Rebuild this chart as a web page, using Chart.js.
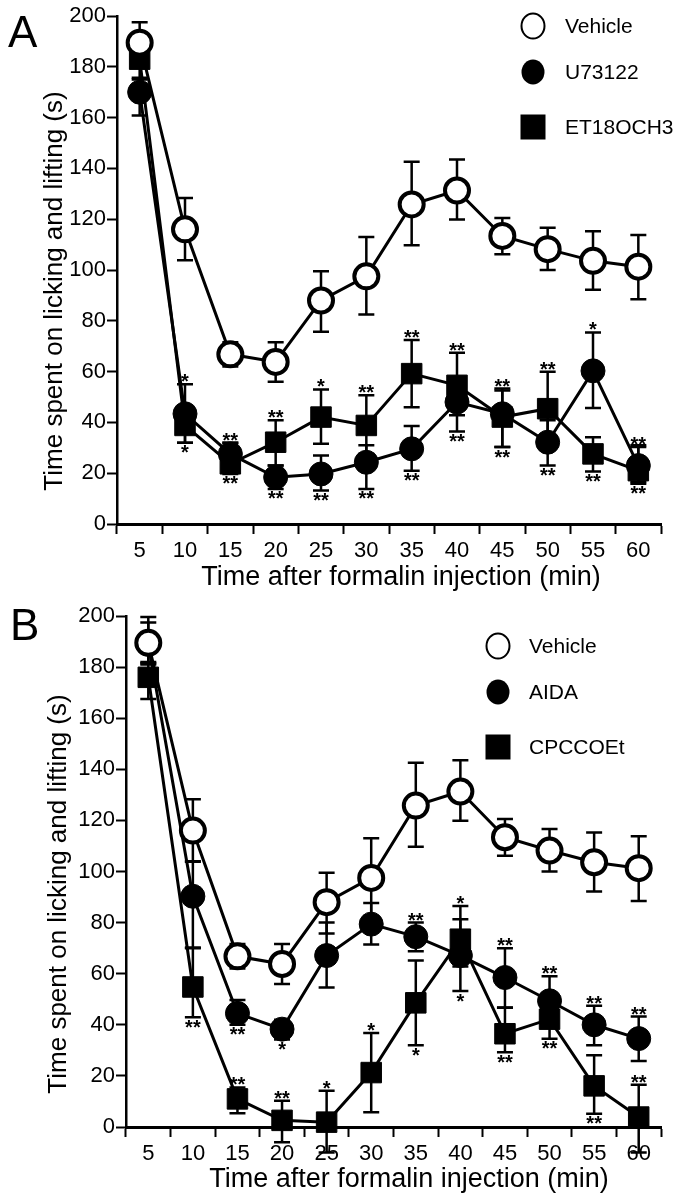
<!DOCTYPE html>
<html>
<head>
<meta charset="utf-8">
<script src="https://cdn.jsdelivr.net/npm/chart.js@4.4.0/dist/chart.umd.min.js"></script>
<style>
html, body { margin: 0; padding: 0; background: #fff; }
#wrap { position: relative; width: 678px; height: 1199px; }
canvas { position: absolute; left: 0; }
#chartA { top: 0; }
#chartB { top: 600px; }
</style>
</head>
<body>
<div id="wrap">
    <canvas id="chartA" width="678" height="600"></canvas>
    <canvas id="chartB" width="678" height="599"></canvas>
</div>
<script>
/*---------------------------------------- data ----------------------------------------*/
var minutes = ['5', '10', '15', '20', '25', '30', '35', '40', '45', '50', '55', '60'];
var yLabelValues = [0, 20, 40, 60, 80, 100, 120, 140, 160, 180, 200];

// vehicle (same group in both panels)
var vehicleMean = [189.5, 116, 66.8, 63.8, 88, 97.5, 125.8, 131.3, 113.4, 108.2, 103.6, 101.3];
var vehicleHi = [197.5, 128.3, 71.6, 71.6, 99.5, 113, 142.6, 143.5, 120.5, 116.6, 115.3, 113.8];
var vehicleLo = [182, 103.8, 62, 56, 75.7, 82.5, 109.7, 119.9, 106.2, 100, 92.2, 88.5];

// panel A
var u73122Mean = [170, 43.4, 27.6, 18.4, 19.7, 24.3, 29.6, 48, 43.4, 32.2, 60.3, 23];
var u73122Hi = [175.7, 55, 32, 23, 27, 31, 38.6, 56.6, 52.6, 40.8, 75.4, 31];
var u73122Lo = [160.8, 32, 23, 13.8, 13.2, 13.8, 21, 36.4, 30.3, 23, 45.7, 16.5];
var u73122StarsUp = ['', '*', '', '', '', '', '', '', '', '', '*', ''];
var u73122StarsDown = ['', '', '', '**', '**', '**', '**', '**', '**', '**', '', ''];

var et18Mean = [183, 38.8, 23.7, 32.2, 42.1, 38.8, 59.2, 54.6, 42.1, 45.4, 27.6, 21];
var et18Hi = [189, 44.7, 32, 40.8, 53, 50.7, 72.4, 67.4, 53.3, 59.9, 34.2, 30.3];
var et18Lo = [175, 32, 19.7, 23, 31.6, 27.6, 46, 42.8, 30.3, 32.2, 20.7, 15.8];
var et18StarsUp = ['', '', '**', '**', '*', '**', '**', '**', '**', '**', '', '**'];
var et18StarsDown = ['', '*', '**', '', '', '', '', '', '', '', '**', '**'];

// panel B
var aidaMean = [189, 90.3, 44.5, 38.3, 67.1, 79.4, 74.5, 67.1, 58.5, 49.4, 40, 34.6];
var aidaHi = [199.6, 104, 49.7, 42, 80, 87.7, 80, 81.3, 70, 59, 47.5, 43.2];
var aidaLo = [181, 70.3, 40, 34.2, 54.6, 71.4, 68.8, 53.2, 46.7, 39.4, 32, 25.8];
var aidaStarsUp = ['', '', '', '', '', '', '**', '', '**', '**', '**', '**'];
var aidaStarsDown = ['', '', '**', '*', '', '', '', '*', '', '', '', ''];

var cpccoetMean = [176, 54.8, 11, 2.6, 1.9, 21.3, 48.6, 73.5, 36.5, 42.2, 16.1, 3.9];
var cpccoetHi = [181.5, 70, 15.5, 10.3, 14.2, 36.8, 65.2, 86.5, 46.8, 49.7, 28.1, 16.5];
var cpccoetLo = [167.5, 43, 5.4, -6, -10, 5.8, 32, 62.8, 29.3, 34.5, 5.2, -10];
var cpccoetStarsUp = ['', '', '**', '**', '*', '*', '', '*', '', '', '', '**'];
var cpccoetStarsDown = ['', '**', '', '', '', '', '*', '', '**', '**', '**', ''];

var noStars = ['', '', '', '', '', '', '', '', '', '', '', ''];

/*---------------------------------------- helpers ----------------------------------------*/
var FONT = '"Liberation Sans", Arial, Helvetica, sans-serif';

// marker look for the three kinds of group
function makeSet(label, mean, hi, lo, kind, starsUp, starsDown) {
    var isRect = kind === 'square';
    return {
        label: label,
        data: mean,
        errHi: hi,
        errLo: lo,
        starsUp: starsUp,
        starsDown: starsDown,
        kind: kind,
        borderColor: '#000',
        borderWidth: 3,
        tension: 0,
        fill: false,
        clip: false,
        pointStyle: isRect ? 'rect' : 'circle',
        pointRadius: isRect ? 14.5 : 12,
        pointBackgroundColor: kind === 'open' ? '#fff' : '#000',
        pointBorderColor: '#000',
        pointBorderWidth: kind === 'open' ? 4 : 1
    };
}

// error bars, drawn under the markers
var errorBarPlugin = {
    id: 'errorBars',
    beforeDatasetsDraw: function (chart) {
        var ctx = chart.ctx;
        var xs = chart.scales.x, ys = chart.scales.y;
        ctx.save();
        ctx.strokeStyle = '#000';
        ctx.lineWidth = 2.5;
        chart.data.datasets.forEach(function (ds) {
            for (var i = 0; i < ds.data.length; i++) {
                var x = xs.getPixelForValue(i);
                var yh = ys.getPixelForValue(ds.errHi[i]);
                var yl = ys.getPixelForValue(ds.errLo[i]);
                ctx.beginPath();
                ctx.moveTo(x, yh); ctx.lineTo(x, yl);
                ctx.moveTo(x - 8, yh); ctx.lineTo(x + 8, yh);
                ctx.moveTo(x - 8, yl); ctx.lineTo(x + 8, yl);
                ctx.stroke();
            }
        });
        ctx.restore();
    },
    afterDatasetsDraw: function (chart) {
        // significance asterisks above / below the error bars
        var ctx = chart.ctx;
        var xs = chart.scales.x, ys = chart.scales.y;
        ctx.save();
        ctx.fillStyle = '#000';
        ctx.font = 'bold 20px ' + FONT;
        ctx.textAlign = 'center';
        chart.data.datasets.forEach(function (ds) {
            for (var i = 0; i < ds.data.length; i++) {
                var x = xs.getPixelForValue(i);
                if (ds.starsUp[i]) {
                    ctx.textBaseline = 'alphabetic';
                    ctx.fillText(ds.starsUp[i], x, ys.getPixelForValue(ds.errHi[i]) + 4);
                }
                if (ds.starsDown[i]) {
                    ctx.textBaseline = 'top';
                    ctx.fillText(ds.starsDown[i], x, ys.getPixelForValue(ds.errLo[i]) + 1);
                }
            }
        });
        ctx.restore();
    }
};

// panel letter, axis titles and the legend block
var decorPlugin = {
    id: 'decor',
    afterDraw: function (chart, args, o) {
        var ctx = chart.ctx;
        ctx.save();
        ctx.fillStyle = '#000';
        ctx.strokeStyle = '#000';

        ctx.font = '44px ' + FONT;
        ctx.textAlign = 'left';
        ctx.textBaseline = 'alphabetic';
        ctx.fillText(o.letter, o.letterX, o.letterY);

        ctx.font = '27px ' + FONT;
        ctx.textAlign = 'center';
        ctx.textBaseline = 'middle';
        ctx.fillText('Time after formalin injection (min)', o.xTitleX, o.xTitleY);

        ctx.save();
        ctx.translate(o.yTitleX, o.yTitleY);
        ctx.rotate(-Math.PI / 2);
        ctx.font = '26px ' + FONT;
        ctx.fillText('Time spent on licking and lifting (s)', 0, 0);
        ctx.restore();

        ctx.font = '21px ' + FONT;
        ctx.textAlign = 'left';
        chart.data.datasets.forEach(function (ds, k) {
            var y = o.legendY[k];
            ctx.lineWidth = 2;
            if (ds.kind === 'square') {
                ctx.fillRect(o.legendX - 12.5, y - 12.5, 25, 25);
            } else {
                ctx.beginPath();
                ctx.ellipse(o.legendX, y, 11.5, 12.5, 0, 0, Math.PI * 2);
                if (ds.kind === 'open') ctx.stroke(); else ctx.fill();
            }
            ctx.fillText(ds.label, o.legendTextX, y + 1);
        });
        ctx.restore();
    }
};

function makeChart(id, sets, pad, yAxisWidth, xAxisHeight, decor) {
    return new Chart(document.getElementById(id), {
        type: 'line',
        data: { labels: minutes, datasets: sets },
        plugins: [errorBarPlugin, decorPlugin],
        options: {
            responsive: false,
            animation: false,
            events: [],
            layout: { padding: pad },
            plugins: { legend: { display: false }, tooltip: { enabled: false }, decor: decor },
            scales: {
                x: {
                    type: 'category',
                    offset: true,
                    afterFit: function (s) { s.height = xAxisHeight; },
                    grid: { offset: true, drawOnChartArea: false, drawTicks: true, tickLength: 10, tickWidth: 2, tickColor: '#000' },
                    border: { display: true, color: '#000', width: 3 },
                    ticks: { color: '#000', font: { family: FONT, size: 22 }, padding: 4, maxRotation: 0, autoSkip: false }
                },
                y: {
                    min: 0,
                    max: 200,
                    afterFit: function (s) { s.width = yAxisWidth; },
                    afterBuildTicks: function (s) {
                        var t = [];
                        for (var v = 0; v <= 200; v += 10) t.push({ value: v });
                        s.ticks = t;
                    },
                    grid: {
                        drawOnChartArea: false, drawTicks: true, tickLength: 10, tickWidth: 2, tickColor: '#000',
                        tickBorderDash: function (c) { return yLabelValues.indexOf(c.tick.value) >= 0 ? [] : [5, 40]; }
                    },
                    border: { display: true, color: '#000', width: 2.5 },
                    ticks: {
                        color: '#000', font: { family: FONT, size: 22 }, padding: 1,
                        callback: function (v) { return yLabelValues.indexOf(v) >= 0 ? String(v) : ''; }
                    }
                }
            }
        }
    });
}

/*---------------------------------------- panel A ----------------------------------------*/
makeChart('chartA', [
    makeSet('Vehicle', vehicleMean, vehicleHi, vehicleLo, 'open', noStars, noStars),
    makeSet('U73122', u73122Mean, u73122Hi, u73122Lo, 'filled', u73122StarsUp, u73122StarsDown),
    makeSet('ET18OCH3', et18Mean, et18Hi, et18Lo, 'square', et18StarsUp, et18StarsDown)
], { top: 16, right: 17, left: 0, bottom: 0 }, 117, 76, {
    letter: 'A', letterX: 8, letterY: 47,
    xTitleX: 401, xTitleY: 578,
    yTitleX: 55, yTitleY: 291,
    legendX: 533, legendTextX: 565, legendY: [26, 72, 127]
});

/*---------------------------------------- panel B ----------------------------------------*/
makeChart('chartB', [
    makeSet('Vehicle', vehicleMean, vehicleHi, vehicleLo, 'open', noStars, noStars),
    makeSet('AIDA', aidaMean, aidaHi, aidaLo, 'filled', aidaStarsUp, aidaStarsDown),
    makeSet('CPCCOEt', cpccoetMean, cpccoetHi, cpccoetLo, 'square', cpccoetStarsUp, cpccoetStarsDown)
], { top: 13, right: 17, left: 0, bottom: 0 }, 126, 72, {
    letter: 'B', letterX: 10, letterY: 40,
    xTitleX: 409, xTitleY: 580,
    yTitleX: 59, yTitleY: 294,
    legendX: 498, legendTextX: 529, legendY: [46, 92, 147]
});
</script>
</body>
</html>
